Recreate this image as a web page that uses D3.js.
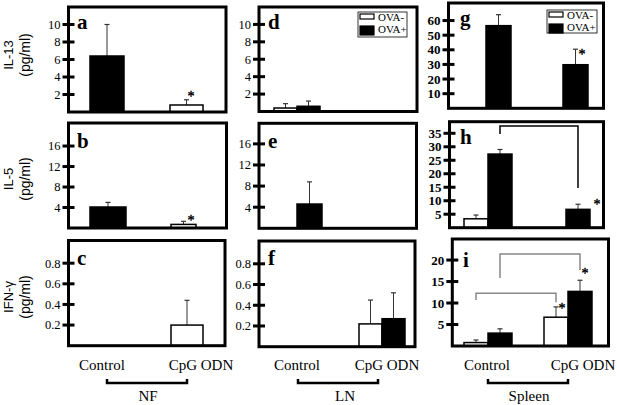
<!DOCTYPE html>
<html><head><meta charset="utf-8">
<script src="https://cdn.jsdelivr.net/npm/d3@7"></script>
<style>body{margin:0;background:#fff}svg{display:block}</style>
</head><body><svg id="c" width="617" height="405"></svg>
<script>
// ---------- DATA ----------
const groups = ["Control", "CpG ODN"];
const series = ["OVA-", "OVA+"];
const tissues = ["NF", "LN", "Spleen"];
const cytokines = ["IL-13", "IL-5", "IFN-γ"];
const unit = "(pg/ml)";
// bar order: [Control OVA-, Control OVA+, CpG OVA-, CpG OVA+]; null = no bar
const il13_NF = [null, 6.4, 0.8, null];
const il13_NF_sd = [null, 3.6, 0.6, null];
const il13_LN = [0.4, 0.6, null, null];
const il13_LN_sd = [0.5, 0.6, null, null];
const il13_Spleen = [null, 56.5, null, 29.8];
const il13_Spleen_sd = [null, 7.5, null, 10.6];
const il5_NF = [null, 4.1, 0.7, null];
const il5_NF_sd = [null, 0.9, 0.6, null];
const il5_LN = [null, 4.6, null, null];
const il5_LN_sd = [null, 4.2, null, null];
const il5_Spleen = [3.3, 27.3, null, 6.8];
const il5_Spleen_sd = [1.4, 1.7, null, 1.9];
const ifn_NF = [null, null, 0.2, null];
const ifn_NF_sd = [null, null, 0.24, null];
const ifn_LN = [null, null, 0.22, 0.27];
const ifn_LN_sd = [null, null, 0.23, 0.25];
const ifn_Spleen = [0.8, 3.0, 6.7, 12.7];
const ifn_Spleen_sd = [0.6, 1.0, 2.4, 2.6];
// tick labels
const ticksIL13 = [2, 4, 6, 8, 10];
const ticksIL13Spleen = [10, 20, 30, 40, 50, 60];
const ticksIL5 = [4, 8, 12, 16];
const ticksIL5Spleen = [5, 10, 15, 20, 25, 30, 35];
const ticksIFN = [0.2, 0.4, 0.6, 0.8];
const ticksIFNSpleen = [5, 10, 15, 20];
// significance: [bar index], brackets: [from bar, to bar, level, from end, to end]
const starsH = [3], starsI = [2, 3], starsA = [2], starsB = [2], starsG = [3];
const bracketsH = [[1, 3, 37.7, 34.7, 14.7]];
const bracketsI = [[0, 2, 12.3, 10.7, 10.2], [1, 3, 21.4, 15.8, 17.7]];

// ---------- LAYOUT ----------
const panels = [
  {letter:"a", vals:il13_NF, sd:il13_NF_sd, ticks:ticksIL13, ymax:12, frame:[68.5,7,226,112], centers:[90,203], bw:[34,33], lp:[77,29], stars:starsA, sOff:[[4.5,-6]], fs:12.5},
  {letter:"d", vals:il13_LN, sd:il13_LN_sd, ticks:ticksIL13, ymax:12, frame:[259,7,417,111.5], centers:[297,382], bw:[23,23], lp:[268,29], legend:[358,12,49,25], fs:12.5},
  {letter:"g", vals:il13_Spleen, sd:il13_Spleen_sd, ticks:ticksIL13Spleen, ymax:72, frame:[448.5,3,603.5,108.3], centers:[486,563], bw:[25,25], lp:[460,25], stars:starsG, sOff:[[6.5,3]], legend:[547,10,50,23], fs:13, bold:true},
  {letter:"b", vals:il5_NF, sd:il5_NF_sd, ticks:ticksIL5, ymax:20.5, frame:[68.5,123,226.5,228], centers:[90,196], bw:[36,25], lp:[77,148], stars:starsB, sOff:[[7.5,-3]], fs:12.5},
  {letter:"e", vals:il5_LN, sd:il5_LN_sd, ticks:ticksIL5, ymax:19.9, frame:[259,123.3,416.5,228.3], centers:[297,382], bw:[25,25], lp:[268,148], fs:12.5},
  {letter:"h", vals:il5_Spleen, sd:il5_Spleen_sd, ticks:ticksIL5Spleen, ymax:39.3, frame:[449.5,121.7,603.5,227.7], centers:[488,566], bw:[24,24], lp:[460,144], stars:starsH, sOff:[[19,-2]], brackets:bracketsH, bcol:"#000", fs:13, bold:true},
  {letter:"c", vals:ifn_NF, sd:ifn_NF_sd, ticks:ticksIFN, ymax:1.02, frame:[68.5,240.5,225,345.7], centers:[90,203], bw:[32,32], lp:[77,265], fs:12.5},
  {letter:"f", vals:ifn_LN, sd:ifn_LN_sd, ticks:ticksIFN, ymax:1.02, frame:[259,241,415,346.7], centers:[297,382], bw:[23,23], lp:[268,265], fs:12.5},
  {letter:"i", vals:ifn_Spleen, sd:ifn_Spleen_sd, ticks:ticksIFNSpleen, ymax:24.9, frame:[452.3,239,608.5,346], centers:[488,568], bw:[24,24], lp:[463,267], stars:starsI, sOff:[[6,-1],[5,-9]], brackets:bracketsI, bcol:"#888", fs:13, bold:true}
];
const serif = "'Liberation Serif','Times New Roman',serif";
const sans = "'Liberation Sans',Arial,sans-serif";
const svg = d3.select("#c");

panels.forEach(p => {
  const [l, t, r, b] = p.frame;
  const g = svg.append("g");
  const y = d3.scaleLinear().domain([0, p.ymax]).range([b, t]);
  const xc = d3.scalePoint().domain(groups).range(p.centers);
  const bars = [];
  groups.forEach((grp, gi) => series.forEach((s, si) => {
    const i = gi * 2 + si;
    const w = p.bw[gi];
    const x0 = si === 0 ? xc(grp) - w : xc(grp);
    bars.push({i, grp, s, v: p.vals[i], sd: p.sd[i], x0, w, cx: x0 + w / 2});
  }));
  const shown = bars.filter(d => d.v != null);
  // error bars
  shown.filter(d => d.sd != null).forEach(d => {
    g.append("line").attr("x1", d.cx).attr("x2", d.cx).attr("y1", y(d.v)).attr("y2", y(d.v + d.sd))
      .attr("stroke", "#333").attr("stroke-width", 1);
    g.append("line").attr("x1", d.cx - 2.5).attr("x2", d.cx + 2.5).attr("y1", y(d.v + d.sd)).attr("y2", y(d.v + d.sd))
      .attr("stroke", "#333").attr("stroke-width", 1.2);
  });
  g.selectAll("rect.bar").data(shown).join("rect").attr("class", "bar")
    .attr("x", d => d.x0).attr("width", d => d.w)
    .attr("y", d => y(d.v)).attr("height", d => y(0) - y(d.v))
    .attr("fill", d => d.s === "OVA+" ? "#000" : "#fff")
    .attr("stroke", "#000").attr("stroke-width", 1.5);
  // stars
  (p.stars || []).forEach((bi, k) => {
    const d = bars[bi];
    const sx = d.cx + p.sOff[k][0], sy = y(d.v + d.sd) + p.sOff[k][1] + 7;
    g.append("text").attr("x", sx).attr("y", sy)
      .attr("text-anchor", "middle").attr("font-family", serif).attr("font-size", 14)
      .attr("fill", "#000").attr("stroke", "#000").attr("stroke-width", 0.4).text("*");
  });
  // brackets
  (p.brackets || []).forEach(br => {
    const a = bars[br[0]], c = bars[br[1]];
    g.append("path").attr("d", `M${a.cx},${y(br[3])}V${y(br[2])}H${c.cx}V${y(br[4])}`)
      .attr("fill", "none").attr("stroke", p.bcol).attr("stroke-width", 1.5);
  });
  // frame
  g.append("rect").attr("x", l).attr("y", t).attr("width", r - l).attr("height", b - t)
    .attr("fill", "none").attr("stroke", "#000").attr("stroke-width", 3);
  // ticks
  p.ticks.forEach(tv => {
    g.append("line").attr("x1", l - 6).attr("x2", l + 6).attr("y1", y(tv)).attr("y2", y(tv))
      .attr("stroke", "#000").attr("stroke-width", 3);
    g.append("text").attr("x", l - 8).attr("y", y(tv)).attr("dy", "0.35em").attr("text-anchor", "end")
      .attr("font-family", serif).attr("font-size", p.fs).attr("font-weight", p.bold ? "bold" : "normal")
      .text(tv);
  });
  // panel letter
  g.append("text").attr("x", p.lp[0]).attr("y", p.lp[1]).attr("font-family", serif)
    .attr("font-size", 21).attr("font-weight", "bold").text(p.letter);
  // legend
  if (p.legend) {
    const [lx, ly, lw, lh] = p.legend;
    const lg = g.append("g");
    lg.append("rect").attr("x", lx).attr("y", ly).attr("width", lw).attr("height", lh)
      .attr("fill", "#fff").attr("stroke", "#000").attr("stroke-width", 0.8);
    series.forEach((s, si) => {
      lg.append("rect").attr("x", lx + 2).attr("y", ly + (si === 0 ? 2 : 14)).attr("width", 14).attr("height", si === 0 ? 5 : 9)
        .attr("fill", si === 0 ? "#fff" : "#000").attr("stroke", "#000").attr("stroke-width", 1.2);
      lg.append("text").attr("x", lx + 20).attr("y", ly + (si === 0 ? 9 : 21)).attr("font-family", serif)
        .attr("font-size", 11).text(s);
    });
  }
});

// y-axis titles
const titleY = [55, 179, 297];
cytokines.forEach((c, i) => {
  svg.append("text").attr("transform", `translate(13,${titleY[i]}) rotate(-90)`).attr("text-anchor", "middle")
    .attr("font-family", sans).attr("font-size", 13).text(c);
  svg.append("text").attr("transform", `translate(30,${titleY[i]}) rotate(-90)`).attr("text-anchor", "middle")
    .attr("font-family", sans).attr("font-size", 14).text(unit);
});

// x labels
const colLabels = [
  {ctrl:102, cpg:201, b0:107, b1:187, t:148},
  {ctrl:297, cpg:387, b0:298, b1:378, t:345},
  {ctrl:487, cpg:583, b0:488, b1:568, t:529}
];
colLabels.forEach((cl, i) => {
  const xs = d3.scalePoint().domain(groups).range([cl.ctrl, cl.cpg]);
  groups.forEach(gname => {
    svg.append("text").attr("x", xs(gname)).attr("y", 370).attr("text-anchor", "middle")
      .attr("font-family", serif).attr("font-size", 15).text(gname);
  });
  svg.append("path").attr("d", `M${cl.b0},379V383H${cl.b1}V379`).attr("fill", "none")
    .attr("stroke", "#000").attr("stroke-width", 2.5);
  svg.append("text").attr("x", cl.t).attr("y", 401).attr("text-anchor", "middle")
    .attr("font-family", serif).attr("font-size", 15).text(tissues[i]);
});
</script>
</body></html>
